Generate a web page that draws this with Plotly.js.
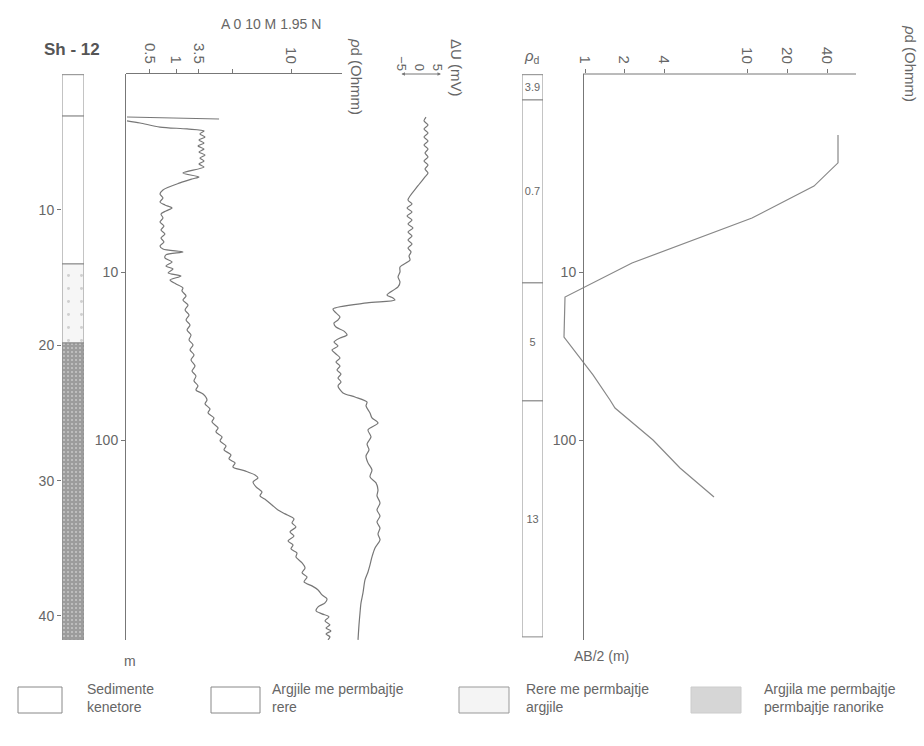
<!DOCTYPE html>
<html>
<head>
<meta charset="utf-8">
<script src="https://cdn.plot.ly/plotly-3.0.1.min.js"></script>
<style>html,body{margin:0;padding:0;background:#fff;}#chart{width:924px;height:746px;}</style>
</head>
<body>
<div id="chart"></div>
<script>
// ---------- DATA ----------
// depth axis (m)
const depthTicks = [10, 20, 30, 40];

// lithology column (depth of top, thickness, m)
const lithoNames = ['Sedimente kenetore', 'Argjile me permbajtje rere', 'Rere me permbajtje argjile', 'Argjila me permbajtje ranorike'];
const lithoTop = [0, 3.06, 13.99, 19.83];
const lithoThick = [3.06, 10.93, 5.84, 21.94];

// resistivity log, A 0 10 M 1.95 N (scale units of the printed axis)
const resTickPos = [1.45, 3.03, 4.42, 6.48, 10];
const resTickText = ['0.5', '1', '3.5', '', '10'];
const resSpikeDepth = [3.13, 3.28];
const resSpikeVal = [0.06, 5.64];
const resDepth = [3.42,3.57,3.87,4.01,4.16,4.38,4.61,4.83,5.05,5.27,5.49,5.71,5.94,6.16,6.38,6.60,6.82,
  7.27,7.56,7.71,8.00,8.52,8.82,9.11,9.41,9.63,9.85,10.07,10.30,10.59,10.89,11.18,11.48,11.77,12.07,12.36,12.66,12.88,
  13.10,13.32,13.55,13.84,14.14,14.36,14.65,14.88,15.17,15.47,15.76,
  15.98,16.35,16.65,17.02,17.39,17.76,18.13,18.50,18.87,19.24,19.61,19.97,20.34,20.71,21.08,21.53,21.90,22.27,22.63,23.00,23.30,23.60,24.04,24.33,24.70,25.00,25.37,25.66,26.11,26.40,26.77,27.07,27.44,27.73,28.10,28.40,28.69,28.99,29.28,29.58,29.80,
  30.10,30.47,30.84,31.13,31.43,31.80,32.17,32.46,32.83,33.13,33.42,33.79,34.09,34.46,34.75,35.05,35.35,35.64,36.08,36.45,36.82,37.12,37.49,37.78,38.08,38.45,38.74,39.04,39.33,39.63,39.85,40.07,40.37,40.66,40.89,41.11,41.33,41.55,41.77];
const resVal = [0.06,0.85,2.06,3.70,4.73,4.48,4.79,4.42,4.73,4.36,4.73,4.42,4.79,4.48,4.73,4.42,4.73,
  3.45,4.42,4.00,3.27,2.24,2.06,2.24,2.06,2.36,2.79,2.42,2.12,2.24,2.06,2.30,2.12,2.36,2.12,2.30,2.06,2.24,
  3.45,2.42,2.36,2.79,2.42,2.85,2.55,3.33,2.67,3.03,3.45,
  3.39,3.64,3.45,3.76,3.58,3.82,3.64,3.88,3.70,3.94,3.82,4.06,3.88,4.12,3.94,4.18,4.00,4.24,4.12,4.36,4.24,4.67,4.91,4.79,5.09,4.97,5.33,5.21,5.58,5.45,5.82,5.70,6.06,5.94,6.36,6.24,6.61,6.48,7.21,7.82,8.00,
  7.70,7.88,8.24,8.12,8.48,8.85,9.21,9.64,10.18,10.06,10.30,9.94,10.18,9.82,10.12,10.00,10.36,10.30,10.67,10.85,10.67,10.97,10.79,11.27,11.64,11.88,12.18,12.06,11.64,11.52,11.88,12.30,12.06,12.36,12.12,12.42,12.12,12.36,12.24];

// spontaneous potential ΔU (mV)
const spTicks = [-5, 0, 5];
const spDepth = [3.13,3.42,3.72,4.01,4.31,4.61,4.90,5.20,5.49,5.79,6.08,6.38,6.67,6.97,7.27,7.56,8.30,9.26,9.56,9.85,10.15,10.44,10.74,11.03,11.33,11.63,11.92,12.22,12.51,12.81,13.10,13.40,13.69,
  14.21,14.58,14.95,15.32,15.69,16.28,16.50,16.65,16.87,17.32,17.61,17.91,18.13,18.35,18.65,18.95,19.24,19.46,19.76,20.05,20.34,20.64,20.94,21.23,21.53,21.82,22.12,22.41,22.71,23.00,
  23.52,23.82,24.19,24.48,25.00,25.37,25.74,26.25,26.77,27.29,27.73,28.18,28.69,29.21,29.73,30.17,30.69,31.13,31.65,32.17,32.61,33.06,33.50,33.94,34.39,34.98,35.64,36.23,36.75,37.34,38.30,39.04,39.78,40.66,41.77];
const spVal = [1.94,1.39,2.5,1.39,2.5,1.39,2.5,1.39,2.5,1.67,2.5,1.39,2.5,1.67,2.5,1.67,-0.56,-3.06,-1.94,-3.33,-1.94,-3.33,-1.94,-3.06,-1.67,-3.06,-1.94,-3.06,-1.94,-3.06,-2.22,-2.78,-2.5,
  -5.28,-5.28,-5.83,-5.28,-5.83,-8.89,-7.22,-6.67,-14.44,-23.89,-23.06,-21.94,-22.5,-23.61,-23.06,-20.83,-20.0,-21.94,-23.61,-22.5,-24.17,-23.06,-21.94,-23.06,-21.94,-22.78,-21.67,-22.5,-21.67,-22.5,
  -21.11,-17.78,-14.44,-14.72,-13.61,-13.06,-11.39,-14.17,-13.33,-14.44,-13.89,-14.72,-14.17,-13.06,-13.61,-11.94,-11.39,-11.67,-10.83,-11.67,-10.83,-11.67,-10.83,-11.39,-10.83,-12.22,-13.06,-13.61,-14.17,-15.0,-15.56,-16.11,-16.39,-16.67,-16.94];

// interpreted layers (depth of top, thickness, m; ρd label)
const rhoLayerTop = [0, 1.87, 15.39, 24.11];
const rhoLayerThick = [1.87, 13.52, 8.72, 17.44];
const rhoLayerText = ['3.9', '0.7', '5', '13'];

// VES curve: AB/2 (m) and ρd (scale units of the printed axis)
const abTicks = [10, 100];
const vesTickPos = [0.2, 4.1, 8.1, 16.4, 20.4, 24.4];
const vesTickText = ['1', '2', '4', '10', '20', '40'];
const vesAB = [1.53, 2.24, 3.08, 4.77, 8.84, 14.1, 24.4, 41.0, 57.8, 64.5, 100, 146.8, 218.5];
const vesRho = [25.5, 25.5, 23.1, 16.9, 4.9, -1.8, -1.9, 1.0, 2.7, 3.2, 7.0, 9.7, 13.1];

// ---------- STYLE ----------
const FONT = 'Liberation Sans, Arial, Helvetica, sans-serif';
const INK = '#666';
const LINE = '#777';
const W = 924, H = 746, T = 74, B = 106;
const px = v => v / W;                     // horizontal page position -> paper
const py = v => (H - B - v) / (H - T - B); // vertical page position -> paper

const lithoStyles = [
  {color: '#ffffff', pattern: {shape: ''}},
  {color: '#ffffff', pattern: {shape: ''}},
  {color: '#f6f6f6', pattern: {shape: '.', fgcolor: '#cfcfcf', bgcolor: '#f6f6f6', size: 13, solidity: 0.04}},
  {color: '#9c9c9c', pattern: {shape: '.', fgcolor: '#c8c8c8', bgcolor: '#9c9c9c', size: 4, solidity: 0.2}}
];

const traces = [];
lithoNames.forEach((n, i) => {
  traces.push({type: 'bar', name: n, x: [0], y: [lithoThick[i]], base: [lithoTop[i]], width: 1,
    xaxis: 'x', yaxis: 'y', showlegend: false, hoverinfo: 'skip',
    marker: {color: lithoStyles[i].color, pattern: lithoStyles[i].pattern, line: {color: '#888', width: 1}}});
});
rhoLayerText.forEach((t, i) => {
  traces.push({type: 'bar', x: [0], y: [rhoLayerThick[i]], base: [rhoLayerTop[i]], width: 1,
    xaxis: 'x5', yaxis: 'y', showlegend: false, hoverinfo: 'skip',
    text: [t], textposition: 'inside', insidetextanchor: 'middle', textangle: 0, constraintext: 'none',
    textfont: {family: FONT, size: 11, color: INK},
    marker: {color: '#ffffff', line: {color: '#888', width: 1}}});
});
traces.push({type: 'scatter', mode: 'lines', x: resSpikeVal, y: resSpikeDepth, xaxis: 'x2', yaxis: 'y',
  line: {color: LINE, width: 1.1}, showlegend: false, hoverinfo: 'skip'});
traces.push({type: 'scatter', mode: 'lines', x: resVal, y: resDepth, xaxis: 'x2', yaxis: 'y',
  line: {color: LINE, width: 1.2, shape: 'spline', smoothing: 0.8}, showlegend: false, hoverinfo: 'skip'});
traces.push({type: 'scatter', mode: 'lines', x: spVal, y: spDepth, xaxis: 'x3', yaxis: 'y',
  line: {color: LINE, width: 1.2, shape: 'spline', smoothing: 0.8}, showlegend: false, hoverinfo: 'skip'});
traces.push({type: 'scatter', mode: 'lines', x: vesRho, y: vesAB, xaxis: 'x4', yaxis: 'y3',
  line: {color: '#888', width: 1.2}, showlegend: false, hoverinfo: 'skip', cliponaxis: false});
// empty trace that only registers the AB/2 scale beside the logs
traces.push({type: 'scatter', mode: 'lines', x: [], y: [], xaxis: 'x2', yaxis: 'y4', showlegend: false, hoverinfo: 'skip'});

const tf = {family: FONT, size: 14, color: INK};
const common = {showgrid: false, zeroline: false, tickcolor: LINE, linecolor: LINE, tickfont: tf, fixedrange: true};

function note(text, x, y, extra) {
  return Object.assign({text: text, xref: 'paper', yref: 'paper', x: px(x), y: py(y),
    xanchor: 'center', yanchor: 'middle', showarrow: false, font: {family: FONT, size: 14, color: INK}}, extra || {});
}

const layout = {
  width: W, height: H,
  margin: {l: 0, r: 0, t: T, b: B, pad: 0},
  paper_bgcolor: '#fff', plot_bgcolor: 'rgba(0,0,0,0)',
  font: {family: FONT, color: INK},
  barmode: 'overlay',
  showlegend: false,
  xaxis: Object.assign({}, common, {domain: [px(62), px(84)], range: [-0.5, 0.5], visible: false, anchor: 'y'}),
  xaxis5: Object.assign({}, common, {domain: [px(522), px(543)], range: [-0.5, 0.5], visible: false, anchor: 'y'}),
  yaxis: Object.assign({}, common, {domain: [0, 1], range: [41.78, -0.05], anchor: 'x', side: 'left',
    showline: false, ticks: 'outside', ticklen: 4, tickvals: depthTicks}),
  xaxis2: Object.assign({}, common, {domain: [px(126), px(342)], range: [0, 13.09], anchor: 'y', side: 'top',
    showline: true, ticks: 'outside', ticklen: 4, tickvals: resTickPos, ticktext: resTickText, tickangle: 90,
    tickfont: {family: FONT, size: 15, color: INK}}),
  xaxis3: Object.assign({}, common, {domain: [px(325), px(445)], range: [-26.11, 7.22], anchor: 'y', side: 'top',
    showline: false, ticks: '', tickvals: spTicks, tickangle: 90, tickfont: {family: FONT, size: 13, color: INK}}),
  yaxis4: Object.assign({}, common, {type: 'log', range: [3.1905, -0.1786], domain: [0, 1], anchor: 'x2',
    side: 'left', showline: true, ticks: 'outside', ticklen: 4, tickvals: abTicks}),
  xaxis4: Object.assign({}, common, {domain: [px(555), px(856)], range: [-2.8, 27.3], anchor: 'y3', side: 'top',
    showline: false, ticks: 'outside', ticklen: 4, tickvals: vesTickPos, ticktext: vesTickText, tickangle: 90,
    tickfont: {family: FONT, size: 15, color: INK}}),
  yaxis3: Object.assign({}, common, {type: 'log', range: [3.1905, -0.1786], anchor: 'free', position: px(583),
    side: 'left', showline: true, ticks: 'outside', ticklen: 4, tickvals: abTicks}),
  shapes: [
    {type: 'line', xref: 'paper', yref: 'paper', x0: px(583), x1: px(856), y0: 1, y1: 1, line: {color: LINE, width: 1}},
    // legend swatches
    {type: 'rect', xref: 'paper', yref: 'paper', x0: px(18), x1: px(62), y0: py(687), y1: py(713), fillcolor: '#fff', line: {color: '#888', width: 1}},
    {type: 'rect', xref: 'paper', yref: 'paper', x0: px(211), x1: px(260), y0: py(687), y1: py(713), fillcolor: '#fff', line: {color: '#888', width: 1}},
    {type: 'rect', xref: 'paper', yref: 'paper', x0: px(459), x1: px(509), y0: py(687), y1: py(713), fillcolor: '#f4f4f4', line: {color: '#999', width: 1}},
    {type: 'rect', xref: 'paper', yref: 'paper', x0: px(691), x1: px(741), y0: py(687), y1: py(713), fillcolor: '#d6d6d6', line: {color: '#ccc', width: 1}}
  ],
  annotations: [
    note('A 0 10 M 1.95 N', 271, 24),
    note('<b>Sh - 12</b>', 72, 50, {font: {family: FONT, size: 17, color: '#555'}}),
    note('<i>ρ</i>d (Ohmm)', 357, 76, {textangle: 90, font: {family: FONT, size: 15, color: INK}}),
    note('ΔU (mV)', 456, 68, {textangle: 90, font: {family: FONT, size: 15, color: INK}}),
    note('<i>ρ</i><sub>d</sub>', 532, 56, {font: {family: FONT, size: 15, color: INK}}),
    note('<i>ρ</i>d (Ohmm)', 911, 63, {textangle: 90, font: {family: FONT, size: 15, color: INK}}),
    note('m', 130, 661),
    note('AB/2 (m)', 601, 656),
    {text: '', xref: 'x3', yref: 'paper', x: 6.1, y: 1, axref: 'x3', ax: -5.3, ayref: 'pixel', ay: 0,
      showarrow: true, arrowhead: 2, arrowside: 'end+start', arrowsize: 0.7, arrowwidth: 1, arrowcolor: LINE},
    note('Sedimente<br>kenetore', 85, 698, {xanchor: 'left', align: 'left'}),
    note('Argjile me permbajtje<br>rere', 270, 698, {xanchor: 'left', align: 'left'}),
    note('Rere me permbajtje<br>argjile', 524, 698, {xanchor: 'left', align: 'left'}),
    note('Argjila me permbajtje<br>permbajtje ranorike', 762, 698, {xanchor: 'left', align: 'left'})
  ]
};

Plotly.newPlot('chart', traces, layout, {staticPlot: true, displayModeBar: false});
</script>
</body>
</html>
